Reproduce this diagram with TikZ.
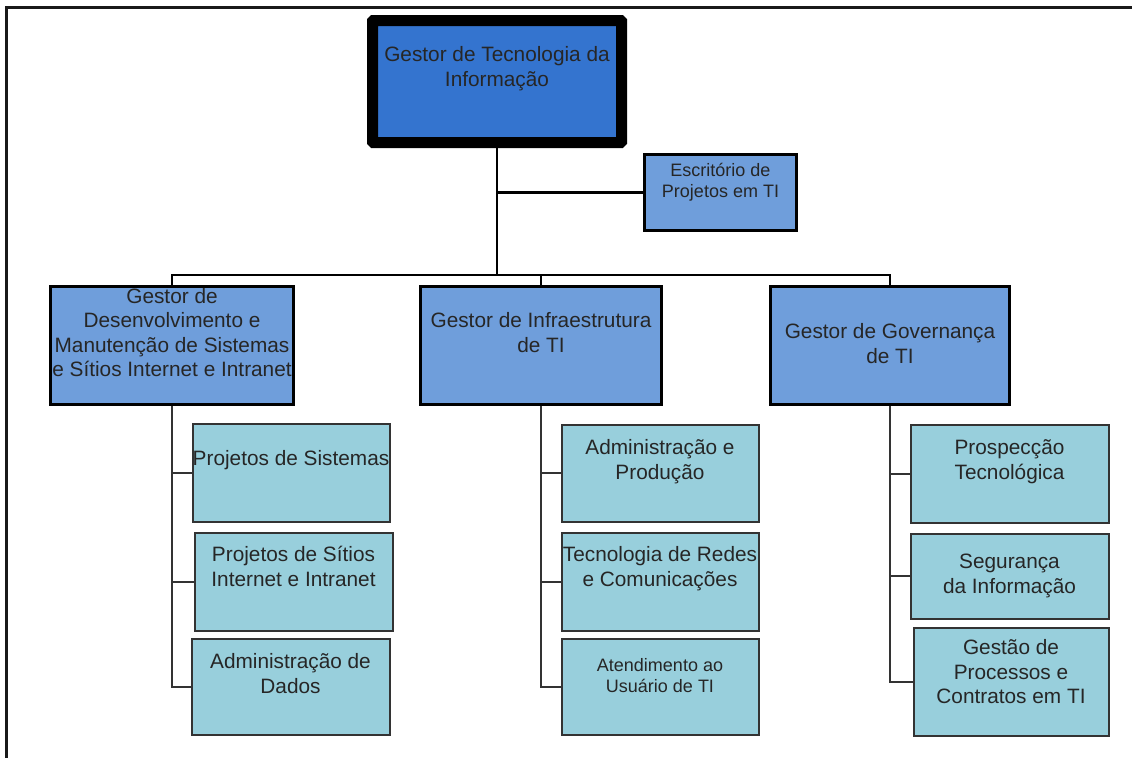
\documentclass[tikz,border=0pt]{standalone}
\usepackage{fontspec}
\setmainfont{Liberation Sans}
\definecolor{topblue}{HTML}{3474CF}
\definecolor{mgrblue}{HTML}{6F9EDB}
\definecolor{subcyan}{HTML}{98CFDC}
\definecolor{linegray}{HTML}{333333}
\begin{document}
\begin{tikzpicture}[x=1pt,y=-1pt,
  topbox/.style={draw=black, line width=11pt, fill=topblue, rounded corners=1pt, inner sep=0pt},
  mgrbox/.style={draw=black, line width=3pt, fill=mgrblue, inner sep=0pt},
  subbox/.style={draw=linegray, line width=2pt, fill=subcyan, inner sep=0pt},
  txt/.style={align=center, inner sep=0pt, text=black!85, font=\fontsize{20.8}{24.5}\selectfont},
  smalltxt/.style={align=center, inner sep=0pt, text=black!85, font=\fontsize{18}{21}\selectfont},
  conn/.style={draw=black, line width=2.5pt},
  subconn/.style={draw=linegray, line width=2pt},
  frame/.style={draw=black!90, line width=2.5pt}
]
\useasboundingbox (0,0) rectangle (1132,758);
\draw[frame] (1132,7.5) -- (6.5,7.5) -- (6.5,758);

% boxes
\node[topbox, minimum width=249pt, minimum height=122pt] (gti) at (497,81.5) {};
\node[mgrbox, minimum width=152pt, minimum height=76pt] (eti) at (720.5,192.5) {};
\node[mgrbox, minimum width=243pt, minimum height=118pt] (gdm) at (172,345.5) {};
\node[mgrbox, minimum width=241pt, minimum height=118pt] (gi) at (541,345.5) {};
\node[mgrbox, minimum width=239pt, minimum height=118pt] (gg) at (890,345.5) {};

\node[subbox, minimum width=197pt, minimum height=98pt] (ps) at (291,472.5) {};
\node[subbox, minimum width=198pt, minimum height=98pt] (pst) at (293.5,581.5) {};
\node[subbox, minimum width=198pt, minimum height=96pt] (ad) at (290.5,686.5) {};

\node[subbox, minimum width=197pt, minimum height=97pt] (ap) at (660,473) {};
\node[subbox, minimum width=197pt, minimum height=98pt] (trc) at (660,581.5) {};
\node[subbox, minimum width=197pt, minimum height=96pt] (au) at (660,686.5) {};

\node[subbox, minimum width=198pt, minimum height=98pt] (pt) at (1009.5,473.5) {};
\node[subbox, minimum width=198pt, minimum height=85pt] (si) at (1009.5,576) {};
\node[subbox, minimum width=195pt, minimum height=108pt] (gp) at (1011,681.5) {};

% texts
\node[txt] (gtit) at (497,68.5) {Gestor de Tecnologia da\\Informação};
\node[smalltxt] (etit) at (720.5,182) {Escritório de\\Projetos em TI};
\node[txt] (gdmt) at (172,332.5) {Gestor de\\Desenvolvimento e\\Manutenção de Sistemas\\e Sítios Internet e Intranet};
\node[txt] (git) at (541,332.5) {Gestor de Infraestrutura\\de TI};
\node[txt] (ggt) at (890,343.5) {Gestor de Governança\\de TI};

\node[txt] (pstx) at (291,460) {Projetos de Sistemas};
\node[txt] (psttx) at (293.5,566.5) {Projetos de Sítios\\Internet e Intranet};
\node[txt] (adtx) at (290.5,673.5) {Administração de\\Dados};

\node[txt] (aptx) at (660,461.5) {Administração e\\Produção};
\node[txt] (trctx) at (660,568.5) {Tecnologia de Redes\\e Comunicações};
\node[smalltxt] (autx) at (660,676) {Atendimento ao\\Usuário de TI};

\node[txt] (pttx) at (1009.5,461.5) {Prospecção\\Tecnológica};
\node[txt] (sitx) at (1009.5,576) {Segurança\\da Informação};
\node[txt] (gptx) at (1011,672) {Gestão de\\Processos e\\Contratos em TI};

% connectors
\coordinate (bar) at (497,275);
\draw[conn] (gti.south) -- (bar);
\draw[conn] (gti.south |- eti.west) -- (eti.west);
\draw[conn] (gdm.north) -- (gdm.north |- bar) -| (gg.north);
\draw[conn] (gi.north) -- (gi.north |- bar);

\draw[subconn] (gdm.south) |- (ps.west);
\draw[subconn] (gdm.south) |- (pst.west);
\draw[subconn] (gdm.south) |- (ad.west);

\draw[subconn] (gi.south) |- (ap.west);
\draw[subconn] (gi.south) |- (trc.west);
\draw[subconn] (gi.south) |- (au.west);

\draw[subconn] (gg.south) |- (pt.west);
\draw[subconn] (gg.south) |- (si.west);
\draw[subconn] (gg.south) |- (gp.west);
\end{tikzpicture}
\end{document}
